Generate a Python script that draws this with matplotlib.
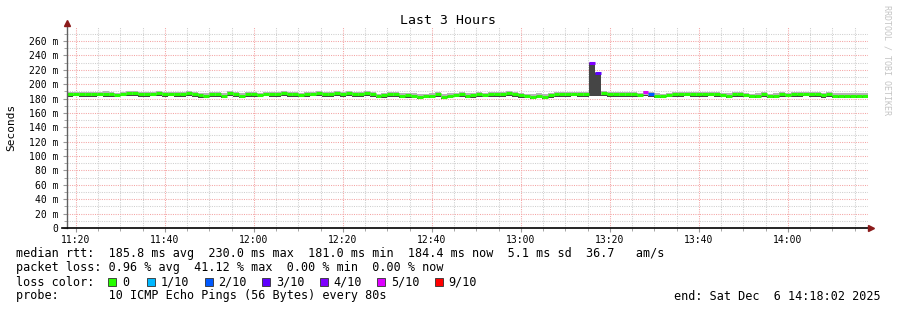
import matplotlib
matplotlib.use("Agg")
import matplotlib.pyplot as plt
import numpy as np
from matplotlib.patches import Rectangle
from matplotlib.lines import Line2D

plt.rcParams['font.family'] = ['DejaVu Sans Mono']

W, H = 897, 310

# data: one value per 80 s step, 11:18:02 -> 14:18:02
step_min = 80 / 60.0
median = [187, 187, 187, 187, 186, 187, 187, 186, 185, 187,
          188, 188, 187, 186, 187, 188, 187, 187, 187, 187,
          188, 187, 185, 183, 186, 187, 184, 188, 186, 183,
          186, 187, 185, 187, 187, 186, 188, 187, 186, 185,
          187, 187, 188, 186, 187, 188, 187, 188, 186, 187,
          188, 186, 183, 185, 187, 186, 184, 185, 183, 182,
          183, 184, 186, 182, 184, 185, 186, 184, 185, 186,
          185, 186, 187, 186, 188, 187, 185, 183, 182, 184,
          182, 185, 186, 187, 186, 187, 187, 186, 230, 216,
          188, 187, 187, 186, 186, 186, 185, 189, 187, 184,
          183, 185, 186, 187, 187, 187, 186, 187, 187, 186,
          185, 184, 186, 187, 185, 183, 184, 186, 183, 184,
          186, 185, 186, 187, 187, 186, 187, 185, 186, 184,
          184, 184, 184, 184, 184]
ping_min = [182, 183, 182, 182, 182, 183, 182, 182, 182, 183,
            183, 183, 182, 182, 183, 183, 182, 183, 182, 182,
            183, 182, 181, 181, 182, 182, 181, 183, 182, 181,
            182, 182, 182, 183, 182, 182, 183, 182, 182, 182,
            182, 183, 183, 182, 182, 183, 182, 183, 182, 182,
            183, 182, 181, 181, 182, 182, 181, 181, 181, 180,
            181, 181, 182, 180, 181, 182, 182, 181, 181, 182,
            182, 182, 182, 182, 183, 182, 181, 181, 180, 181,
            180, 181, 182, 182, 182, 183, 182, 182, 184, 184,
            183, 182, 182, 182, 182, 182, 182, 183, 182, 181,
            181, 182, 182, 182, 183, 182, 182, 182, 183, 182,
            182, 181, 182, 182, 182, 181, 181, 182, 181, 181,
            182, 182, 182, 182, 183, 182, 182, 181, 182, 181,
            181, 181, 181, 181, 181]
ping_q1 = [184, 185, 184, 184, 184, 185, 184, 184, 183, 185,
           185, 185, 185, 184, 185, 185, 184, 185, 184, 185,
           185, 184, 183, 182, 184, 184, 183, 185, 184, 182,
           184, 185, 183, 185, 184, 184, 185, 185, 184, 183,
           185, 185, 185, 184, 184, 185, 185, 185, 184, 184,
           185, 184, 182, 183, 185, 184, 183, 183, 182, 181,
           182, 183, 184, 181, 183, 183, 184, 183, 183, 184,
           183, 184, 185, 184, 185, 185, 183, 182, 181, 183,
           181, 183, 184, 185, 184, 185, 185, 184, 229, 215,
           185, 185, 185, 184, 184, 184, 183, 185, 184, 183,
           182, 183, 184, 185, 185, 185, 184, 185, 185, 184,
           183, 183, 184, 185, 183, 182, 183, 184, 182, 183,
           184, 183, 184, 185, 185, 184, 185, 183, 184, 183,
           183, 183, 183, 183, 183]
ping_max = [189, 189, 189, 189, 189, 189, 190, 189, 188, 189,
            190, 190, 189, 189, 189, 190, 189, 189, 189, 189,
            190, 189, 188, 188, 189, 189, 188, 190, 189, 188,
            189, 189, 188, 189, 189, 189, 190, 189, 189, 188,
            189, 189, 190, 189, 189, 190, 189, 190, 189, 189,
            190, 189, 187, 188, 189, 189, 188, 188, 188, 187,
            187, 188, 189, 187, 188, 188, 189, 188, 188, 189,
            188, 189, 189, 189, 190, 189, 188, 187, 187, 188,
            187, 188, 189, 189, 189, 189, 189, 189, 231, 217,
            190, 189, 189, 189, 189, 189, 188, 191, 189, 188,
            187, 188, 189, 189, 189, 189, 189, 189, 189, 189,
            188, 188, 189, 189, 188, 187, 188, 189, 187, 188,
            189, 188, 189, 189, 189, 189, 189, 188, 189, 188,
            188, 188, 188, 188, 188]
# packet loss in tenths per step
loss = [0] * 135
loss[88] = 4
loss[89] = 3
loss[97] = 5
loss[98] = 2

loss_colors = {0: '#26ff00', 1: '#00b8ff', 2: '#0059ff', 3: '#5e00ff',
               4: '#7e00ff', 5: '#dd00ff', 9: '#ff0000'}
legend_loss = ['0', '1/10', '2/10', '3/10', '4/10', '5/10', '9/10']
legend_keys = [0, 1, 2, 3, 4, 5, 9]

tick_times = ['11:20', '11:40', '12:00', '12:20', '12:40', '13:00', '13:20', '13:40', '14:00']
start_min = 11 * 60 + 18 + 2 / 60.0

stats_line = "median rtt:  185.8 ms avg  230.0 ms max  181.0 ms min  184.4 ms now  5.1 ms sd  36.7   am/s"
loss_line = "packet loss: 0.96 % avg  41.12 % max  0.00 % min  0.00 % now"
probe_line = "probe:       10 ICMP Echo Pings (56 Bytes) every 80s"
end_line = "end: Sat Dec  6 14:18:02 2025"


def fx(x):
    return x / W


def fy(y):
    return 1 - y / H


fig = plt.figure(figsize=(W / 100, H / 100), dpi=100)
fig.patch.set_facecolor('white')
ax = fig.add_axes([fx(67), fy(228), (868 - 67) / W, (228 - 27) / H])

n = len(median)
x0 = np.arange(n) * step_min
lo = np.array(ping_min)
q1 = np.array(ping_q1)
hi = np.array(ping_max)

# smoke
ax.bar(x0, hi - q1, bottom=q1, width=step_min, align='edge', color='#b4b4b4', linewidth=0, zorder=2)
ax.bar(x0, q1 - lo, bottom=lo, width=step_min, align='edge', color='#454545', linewidth=0, zorder=2)
# median coloured by loss
ax.hlines(median, x0, x0 + step_min, colors=[loss_colors[l] for l in loss], linewidth=2.2, zorder=3)

tick_pos = [int(t[:2]) * 60 + int(t[3:]) - start_min for t in tick_times]
ax.set_xticks(tick_pos)
ax.set_xticklabels(tick_times)
ax.set_xticks(np.arange(tick_pos[0], n * step_min, 5), minor=True)
yt = np.arange(0, 261, 20)
ax.set_yticks(yt)
ax.set_yticklabels(['0'] + ['%d m' % v for v in yt[1:]])
ax.set_yticks(np.arange(0, 275, 10), minor=True)

ax.set_xlim(0, n * step_min)
ax.set_ylim(0, 279.5)

ax.grid(which='minor', color='#cfcfcf', linestyle=(0, (1, 1.2)), linewidth=0.75)
ax.grid(which='major', color='#f4a4a4', linestyle=(0, (1, 1.2)), linewidth=0.75)
ax.set_axisbelow(True)

for s in ax.spines.values():
    s.set_visible(False)
ax.tick_params(axis='both', which='both', labelsize=7, colors='#999999', labelcolor='black')
ax.tick_params(axis='y', which='major', length=3, pad=3)
ax.tick_params(axis='y', which='minor', length=2)
ax.tick_params(axis='x', which='major', length=3, pad=2)
ax.tick_params(axis='x', which='minor', length=2)

# axes lines with arrows
fig.add_artist(Line2D([fx(67), fx(67)], [fy(228), fy(24)], color='#606060', linewidth=1.0))
fig.add_artist(Line2D([fx(62), fx(870)], [fy(228), fy(228)], color='black', linewidth=1.2))
fig.add_artist(Line2D([fx(67)], [fy(23)], marker='^', markersize=4, color='#8b1a1a', linestyle='none'))
fig.add_artist(Line2D([fx(871)], [fy(228)], marker='>', markersize=4, color='#8b1a1a', linestyle='none'))

fig.text(fx(448), fy(20), 'Last 3 Hours', ha='center', va='center', fontsize=9.5)
fig.text(fx(11), fy(127), 'Seconds', ha='center', va='center', rotation=90, fontsize=8)
fig.text(fx(887), fy(5), 'RRDTOOL / TOBI OETIKER', ha='center', va='top', rotation=-90,
         fontsize=6, color='#c4c4c4')

# legend
fs = 8.5
fig.text(fx(16), fy(254), stats_line, ha='left', va='center', fontsize=fs)
fig.text(fx(16), fy(268), loss_line, ha='left', va='center', fontsize=fs)
fig.text(fx(16), fy(282), 'loss color:', ha='left', va='center', fontsize=fs)
label_x = [122, 161, 218.5, 276, 333.5, 391, 448.5]
for lx, lab, key in zip(label_x, legend_loss, legend_keys):
    fig.add_artist(Rectangle((fx(lx - 14), fy(286)), 8 / W, 8 / H, facecolor=loss_colors[key],
                             edgecolor='#303030', linewidth=0.6))
    fig.text(fx(lx), fy(282), lab, ha='left', va='center', fontsize=fs)
fig.text(fx(16), fy(296), probe_line, ha='left', va='center', fontsize=fs)
fig.text(fx(881), fy(296), end_line, ha='right', va='center', fontsize=fs)

fig.savefig('out.png', dpi=100)
